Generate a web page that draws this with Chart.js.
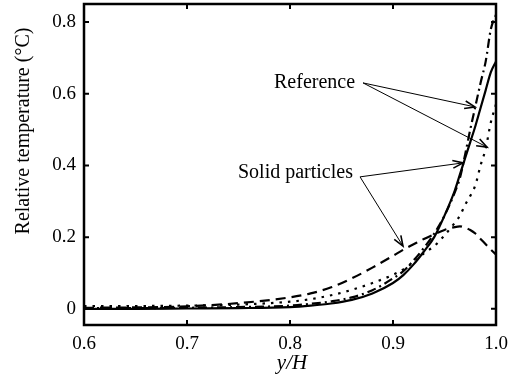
<!DOCTYPE html>
<html>
<head>
<meta charset="utf-8">
<script src="https://cdn.jsdelivr.net/npm/chart.js@4.4.1/dist/chart.umd.min.js"></script>
<style>
  html, body { margin: 0; padding: 0; background: #fff; }
  #wrap { width: 510px; height: 391px; }
</style>
</head>
<body>
<div id="wrap"><canvas id="c" width="510" height="391"></canvas></div>
<script>
// ---- data ----
const xValues = [0.6, 0.65, 0.7, 0.75, 0.8, 0.82, 0.84, 0.86, 0.88, 0.9, 0.91, 0.92, 0.93, 0.94, 0.95, 0.96, 0.965, 0.97, 0.975, 0.98, 0.985, 0.99, 0.995, 1.0];
const solidParticlesA = [0, 0, 0.001, 0.002, 0.005, 0.009, 0.015, 0.025, 0.043, 0.072, 0.094, 0.124, 0.16, 0.2, 0.26, 0.33, 0.375, 0.42, 0.465, 0.51, 0.56, 0.61, 0.66, 0.69];
const referenceA = [0.002, 0.002, 0.003, 0.005, 0.009, 0.014, 0.021, 0.032, 0.052, 0.085, 0.105, 0.135, 0.17, 0.21, 0.26, 0.325, 0.365, 0.43, 0.5, 0.565, 0.63, 0.69, 0.78, 0.82];
const referenceB = [0.008, 0.008, 0.009, 0.012, 0.02, 0.027, 0.038, 0.053, 0.072, 0.095, 0.11, 0.13, 0.155, 0.175, 0.205, 0.24, 0.26, 0.29, 0.315, 0.345, 0.4, 0.447, 0.52, 0.57];
const solidParticlesB = [0.003, 0.004, 0.007, 0.016, 0.032, 0.043, 0.06, 0.085, 0.115, 0.148, 0.165, 0.18, 0.195, 0.208, 0.22, 0.228, 0.23, 0.226, 0.22, 0.21, 0.195, 0.18, 0.165, 0.152];
const xTicks = [0.6, 0.7, 0.8, 0.9, 1.0];
const yTicks = [0, 0.2, 0.4, 0.6, 0.8];
const xTitle = 'y/H';
const yTitle = 'Relative temperature (°C)';
// annotations in data coordinates
const annotations = [
  { text: 'Reference', at: [0.7845, 0.616], from: [0.8709, 0.63], to: [[0.9796, 0.563], [0.9913, 0.451]] },
  { text: 'Solid particles', at: [0.7495, 0.365], from: [0.868, 0.368], to: [[0.968, 0.407], [0.9097, 0.175]] }
];

const FONT = "'Liberation Serif', 'DejaVu Serif', serif";
const pts = arr => xValues.map((x, i) => ({ x: x, y: arr[i] }));

const boxPlugin = {
  id: 'box',
  afterDraw(chart) {
    const { ctx, chartArea: a, scales: { x, y } } = chart;
    ctx.save();
    ctx.strokeStyle = '#000';
    ctx.lineWidth = 2.5;
    ctx.strokeRect(a.left, a.top, a.right - a.left, a.bottom - a.top);
    ctx.lineWidth = 2;
    const tl = 5;
    ctx.beginPath();
    xTicks.forEach(v => {
      const px = x.getPixelForValue(v);
      ctx.moveTo(px, a.bottom); ctx.lineTo(px, a.bottom - tl);
      ctx.moveTo(px, a.top); ctx.lineTo(px, a.top + tl);
    });
    yTicks.forEach(v => {
      const py = y.getPixelForValue(v);
      ctx.moveTo(a.left, py); ctx.lineTo(a.left + tl, py);
      ctx.moveTo(a.right, py); ctx.lineTo(a.right - tl, py);
    });
    ctx.stroke();

    // annotations
    ctx.fillStyle = '#000';
    ctx.font = "20px " + FONT;
    ctx.textBaseline = 'alphabetic';
    ctx.textAlign = 'left';
    annotations.forEach(an => {
      ctx.fillText(an.text, x.getPixelForValue(an.at[0]), y.getPixelForValue(an.at[1]));
      const sx = x.getPixelForValue(an.from[0]), sy = y.getPixelForValue(an.from[1]);
      an.to.forEach(t => {
        const ex = x.getPixelForValue(t[0]), ey = y.getPixelForValue(t[1]);
        ctx.lineWidth = 1;
        ctx.beginPath(); ctx.moveTo(sx, sy); ctx.lineTo(ex, ey); ctx.stroke();
        const ang = Math.atan2(ey - sy, ex - sx);
        const hl = 11, hw = 0.36;
        ctx.lineWidth = 1.6;
        ctx.beginPath();
        ctx.moveTo(ex - hl * Math.cos(ang - hw), ey - hl * Math.sin(ang - hw));
        ctx.lineTo(ex, ey);
        ctx.lineTo(ex - hl * Math.cos(ang + hw), ey - hl * Math.sin(ang + hw));
        ctx.stroke();
      });
    });

    // axis titles
    ctx.font = "italic 21px " + FONT;
    ctx.textAlign = 'center';
    ctx.fillText(xTitle, (a.left + a.right) / 2 + 2, 369);
    ctx.font = "20px " + FONT;
    ctx.translate(29, 131);
    ctx.rotate(-Math.PI / 2);
    ctx.textBaseline = 'alphabetic';
    ctx.fillText(yTitle, 0, 0);
    ctx.restore();
  }
};

const common = { showLine: true, pointRadius: 0, borderColor: '#000', borderWidth: 2.2, fill: false, tension: 0.3, cubicInterpolationMode: 'monotone' };

new Chart(document.getElementById('c'), {
  type: 'scatter',
  data: {
    datasets: [
      Object.assign({ label: 'Solid particles (solid)', data: pts(solidParticlesA) }, common),
      Object.assign({ label: 'Reference (dash-dot)', data: pts(referenceA), borderDash: [9, 4, 2, 4] }, common),
      Object.assign({ label: 'Reference (dotted)', data: pts(referenceB), borderDash: [2.5, 6] }, common),
      Object.assign({ label: 'Solid particles (dashed)', data: pts(solidParticlesB), borderDash: [10, 6] }, common)
    ]
  },
  options: {
    responsive: false,
    animation: false,
    layout: { padding: { top: 4, right: 14, left: 0, bottom: 0 } },
    plugins: { legend: { display: false }, tooltip: { enabled: false } },
    scales: {
      x: {
        type: 'linear', min: 0.6, max: 1.0,
        afterBuildTicks: s => { s.ticks = xTicks.map(v => ({ value: v })); },
        afterFit: s => { s.height = 66; s.paddingLeft = 0; s.paddingRight = 0; },
        ticks: { callback: v => v.toFixed(1), font: { family: FONT, size: 19 }, color: '#000', padding: 8, maxRotation: 0, autoSkip: false },
        grid: { display: false, drawTicks: false },
        border: { display: false }
      },
      y: {
        type: 'linear', min: -0.045, max: 0.85,
        afterBuildTicks: s => { s.ticks = yTicks.map(v => ({ value: v })); },
        afterFit: s => { s.width = 84; s.paddingTop = 0; s.paddingBottom = 0; },
        ticks: { callback: v => (v === 0 ? '0' : v.toFixed(1)), font: { family: FONT, size: 19 }, color: '#000', padding: 8, autoSkip: false },
        grid: { display: false, drawTicks: false },
        border: { display: false }
      }
    }
  },
  plugins: [boxPlugin]
});
</script>
</body>
</html>
